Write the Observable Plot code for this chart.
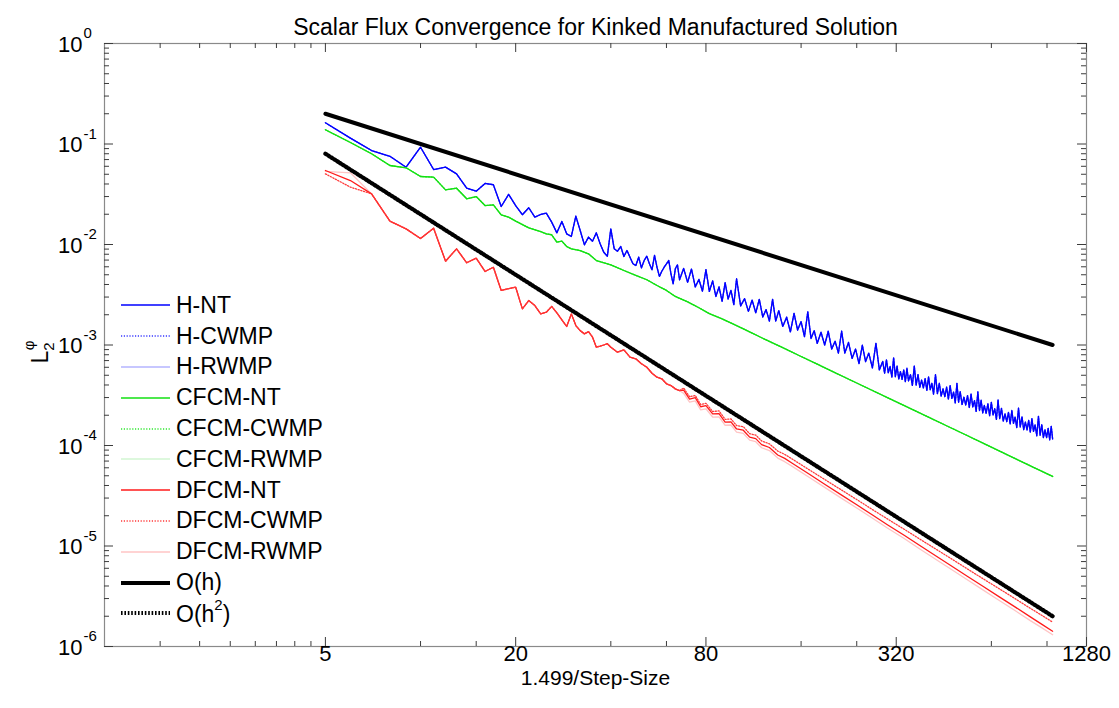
<!DOCTYPE html>
<html><head><meta charset="utf-8">
<script src="https://cdn.jsdelivr.net/npm/d3@7"></script>
<script src="https://cdn.jsdelivr.net/npm/@observablehq/plot@0.6"></script>
<style>
body{margin:0;background:#fff;font-family:"Liberation Sans",Arial,sans-serif;}
#wrap{position:relative;width:1119px;height:708px;}
#legend{position:absolute;left:121px;top:290px;}
.row{height:30.8px;display:flex;align-items:center;font-size:23px;color:#000;white-space:nowrap;}
.row svg{width:49px;height:12px;margin-right:6px;flex:none;}
.row sup{font-size:15px;position:relative;top:-3px;}
</style></head><body><div id="wrap"></div><script>
// ---------- data ----------
const titleText = "Scalar Flux Convergence for Kinked Manufactured Solution";
const xLabelText = "1.499/Step-Size";
const xTickValues = [5, 20, 80, 320, 1280];
const xTickLabels = ["5", "20", "80", "320", "1280"];
const xMinorTicks = [1.5, 2, 2.5, 3, 3.5, 4, 4.5, 10, 15, 40, 60, 160, 240, 640, 960];
const yTickValues = [1, 1e-1, 1e-2, 1e-3, 1e-4, 1e-5, 1e-6];
const yTickExponents = ["0", "-1", "-2", "-3", "-4", "-5", "-6"];
const yMinorTicks = [1e-1,1e-2,1e-3,1e-4,1e-5,1e-6].flatMap(p => [2,3,4,5,6,7,8,9].map(m => m * p));

const seriesNames = ["H-NT","H-CWMP","H-RWMP","CFCM-NT","CFCM-CWMP","CFCM-RWMP","DFCM-NT","DFCM-CWMP","DFCM-RWMP","O(h)","O(h2)"];

// H (blue)
const hN = [5,6,7,8,9,10,11,12,13,14,15,16,17,18,19,20,21,22,23,24,25,26,27,28,29,30,31,32,33,34,35,36,37,38,39,40,41,42,43,44,45,46,47,48,49,50,51,52,53,54,55,56,57,58,59,60,61,62,63,64,65,66,
  68,70,72,74,76,78,80,82,84,86,88,90,92,94,96,98,100,103,106,109,112,115,118,121,124,127,130,133,136,140,144,148,152,156,160,164,168,172,176,180,185,190,195,200,205,210,215,220,226,232,238,244,250,256,262,269,276,283,
  290,294,298,302,306,310,314,318,322,326,330,334,338,342,346,350,355,360,365,370,375,380,385,390,395,400,405,410,415,420,426,432,438,444,450,456,462,468,474,480,486,492,498,504,510,517,524,531,538,545,552,559,566,573,580,587,594,601,608,616,624,632,640,648,656,664,672,680,689,698,707,716,725,734,743,752,761,770,780,790,800,810,820,830,840,850,860,870,880,891,902,913,924,935,946,957,968,979,990,1000];
const hNT = [0.1625,0.1143,0.0861,0.0755,0.0588,0.0929,0.0557,0.0588,0.0505,0.0363,0.0339,0.0405,0.0393,0.0239,0.0315,0.0244,0.0198,0.0232,0.0187,0.0199,0.0205,0.0167,0.01306,0.01694,0.01277,0.01202,0.01914,0.01378,0.00993,0.01183,0.01079,0.01306,0.01016,0.00838,0.00764,0.01432,0.00906,0.00857,0.00955,0.00760,0.00871,0.00748,0.00643,0.00618,0.00748,0.00586,0.00693,0.00765,0.00643,0.00560,0.00778,0.00594,0.00481,0.00542,0.00594,0.00643,0.00693,0.00511,0.00406,0.00573,0.00628,0.00446,
  5.78e-3,4.20e-3,5.70e-3,3.79e-3,4.49e-3,3.43e-3,5.62e-3,3.41e-3,4.35e-3,3.04e-3,
  3.79e-3,2.72e-3,4.17e-3,2.87e-3,3.50e-3,2.52e-3,4.56e-3,2.45e-3,2.89e-3,2.16e-3,
  2.80e-3,2.09e-3,2.85e-3,1.90e-3,2.25e-3,1.73e-3,2.84e-3,1.73e-3,2.20e-3,1.53e-3,
  1.89e-3,1.35e-3,2.06e-3,1.41e-3,1.71e-3,1.21e-3,2.14e-3,1.16e-3,1.39e-3,1.04e-3,
  1.34e-3,1.00e-3,1.37e-3,9.10e-4,1.09e-3,8.31e-4,1.37e-3,8.32e-4,1.06e-3,7.35e-4,
  9.11e-4,6.53e-4,9.94e-4,6.83e-4,8.31e-4,5.93e-4,1.04e-3,5.65e-4,
  6.86e-4,5.24e-4,7.10e-4,5.30e-4,6.12e-4,4.78e-4,7.46e-4,4.85e-4,6.15e-4,4.59e-4,
  5.43e-4,4.55e-4,5.65e-4,4.32e-4,5.87e-4,4.39e-4,5.07e-4,3.96e-4,6.16e-4,4.00e-4,
  5.07e-4,3.78e-4,4.47e-4,3.74e-4,4.63e-4,3.54e-4,4.81e-4,3.59e-4,4.16e-4,3.25e-4,
  5.06e-4,3.28e-4,4.16e-4,3.10e-4,3.66e-4,3.07e-4,3.80e-4,2.90e-4,3.94e-4,2.94e-4,
  3.40e-4,2.66e-4,4.15e-4,2.70e-4,3.43e-4,2.56e-4,3.02e-4,2.53e-4,3.13e-4,2.39e-4,
  3.25e-4,2.42e-4,2.80e-4,2.19e-4,3.42e-4,2.23e-4,2.82e-4,2.11e-4,2.50e-4,2.09e-4,
  2.59e-4,1.98e-4,2.69e-4,2.01e-4,2.32e-4,1.82e-4,2.84e-4,1.85e-4,2.34e-4,1.75e-4,
  2.06e-4,1.73e-4,2.14e-4,1.64e-4,2.23e-4,1.66e-4,1.92e-4,1.51e-4,2.35e-4,1.53e-4,
  1.93e-4,1.44e-4,1.71e-4,1.43e-4,1.78e-4,1.36e-4,1.85e-4,1.38e-4,1.60e-4,1.25e-4,
  1.95e-4,1.27e-4,1.61e-4,1.20e-4,1.43e-4,1.20e-4,1.48e-4,1.14e-4,1.55e-4,1.16e-4];

// CFCM (green)
const cN = [5,6,7,8,9,10,11,12,13,14,15,16,17,18,19,20,22,24,25,26,27,28,29,30,32,34,36,40,44,48,52,56,60,64,70,76,82,90,100,110,125,140,160,180,200,230,260,300,350,400,460,530,600,680,770,870,1000];
const cNT = [0.1385,0.1035,0.0799,0.0611,0.0580,0.0475,0.0468,0.0350,0.0363,0.0285,0.0300,0.0244,0.0248,0.0197,0.0187,0.0171,
  0.01466,0.01346,0.01277,0.01250,0.01054,0.01079,0.00955,0.00906,
  0.00871,0.00807,0.00693,0.00628,0.00551,0.00492,0.00446,0.00391,0.00349,0.00304,
  2.69e-3,2.35e-3,2.05e-3,1.82e-3,1.56e-3,1.35e-3,1.11e-3,9.40e-4,7.69e-4,6.45e-4,5.50e-4,4.46e-4,3.71e-4,3.00e-4,2.38e-4,1.95e-4,1.58e-4,1.28e-4,1.06e-4,8.78e-5,7.29e-5,6.07e-5,4.92e-5];

// DFCM (red): head n = 5..66, tail n = 68..1000
const dHeadN = [5,6,7,8,9,10,11,12,13,14,15,16,17,18,19,20,21,22,23,24,25,26,27,28,29,30,31,32,33,34,35,36,37,38,39,40,
  42,44,46,48,50,52,54,56,58,60,62,64,66];
const dNThead = [0.0545,0.0433,0.0319,0.0171,0.0143,0.01147,0.01453,0.00682,0.00906,0.00658,0.00731,0.00539,0.00594,0.00349,0.00363,0.00376,0.00229,0.00277,0.00247,0.00204,0.00212,0.00242,0.00209,0.00178,0.00153,0.00204,0.00156,0.00139,0.00129,0.00136,0.00120,9.51e-4,9.73e-4,1.00e-3,1.03e-3,9.51e-4,
  8.48e-4,8.96e-4,7.56e-4,7.29e-4,6.50e-4,6.01e-4,5.24e-4,4.78e-4,4.61e-4,4.11e-4,3.95e-4,3.66e-4,3.52e-4];
const dCWMPfirst = [0.0505, 0.0372, 0.0319];   // n = 5, 6, 7
const dRWMPfirst = [0.0533, 0.0517, 0.0319];
const dTailN = [68,71,74,77,80,84,88,92,96,100,105,110,115,120,127,135,142,150,170,190,215,240,270,300,340,380,430,480,540,600,680,760,850,920,1000];
const dNTtail = [3.55e-4,2.90e-4,2.99e-4,2.43e-4,2.49e-4,2.06e-4,2.08e-4,1.71e-4,1.72e-4,1.46e-4,1.42e-4,1.21e-4,1.17e-4,1.02e-4,9.55e-5,8.05e-5,7.44e-5,6.66e-5,5.17e-5,4.12e-5,3.21e-5,2.57e-5,2.02e-5,1.63e-5,1.27e-5,1.01e-5,7.86e-6,6.29e-6,4.95e-6,4.00e-6,3.10e-6,2.48e-6,1.97e-6,1.68e-6,1.42e-6];
const dCWMPtail = [3.73e-4,3.05e-4,3.15e-4,2.56e-4,2.63e-4,2.18e-4,2.21e-4,1.82e-4,1.84e-4,1.58e-4,1.54e-4,1.31e-4,1.27e-4,1.11e-4,1.04e-4,8.8e-5,8.16e-5,7.33e-5,5.72e-5,4.59e-5,3.6e-5,2.9e-5,2.29e-5,1.86e-5,1.46e-5,1.17e-5,9.2e-6,7.4e-6,5.86e-6,4.76e-6,3.73e-6,3.0e-6,2.4e-6,2.06e-6,1.75e-6];
const dRWMPtail = [3.30e-4,2.70e-4,2.78e-4,2.26e-4,2.32e-4,1.92e-4,1.93e-4,1.59e-4,1.60e-4,1.36e-4,1.32e-4,1.13e-4,1.09e-4,9.5e-5,8.9e-5,7.5e-5,6.9e-5,6.2e-5,4.8e-5,3.83e-5,2.98e-5,2.39e-5,1.88e-5,1.51e-5,1.18e-5,9.35e-6,7.25e-6,5.8e-6,4.56e-6,3.68e-6,2.85e-6,2.28e-6,1.81e-6,1.55e-6,1.31e-6];

// reference slopes (straight lines in log-log)
const refN = [5, 1000];
const ohY = [0.2, 0.001];
const oh2Y = [0.08, 2e-6];

// ---------- build tables ----------
const pts = (xs, ys) => xs.map((x, i) => ({x, y: ys[i]}));
const dN = dHeadN.concat(dTailN);
const dNT = pts(dN, dNThead.concat(dNTtail));
const dCWMP = pts(dN, dCWMPfirst.concat(dNThead.slice(3), dCWMPtail));
const dRWMP = pts(dN, dRWMPfirst.concat(dNThead.slice(3), dRWMPtail));

const styles = {
  "H-NT":      {stroke: "#0000ff", strokeWidth: 1.3},
  "H-CWMP":    {stroke: "#3a3aff", strokeWidth: 1.3, strokeDasharray: "1.2,1.6"},
  "H-RWMP":    {stroke: "#b4b4ff", strokeWidth: 1.3},
  "CFCM-NT":   {stroke: "#12e012", strokeWidth: 1.3},
  "CFCM-CWMP": {stroke: "#30e830", strokeWidth: 1.3, strokeDasharray: "1.2,1.6"},
  "CFCM-RWMP": {stroke: "#d2f6d2", strokeWidth: 1.3},
  "DFCM-NT":   {stroke: "#ff1a1a", strokeWidth: 1.3},
  "DFCM-CWMP": {stroke: "#ff3a3a", strokeWidth: 1.3, strokeDasharray: "1.2,1.6"},
  "DFCM-RWMP": {stroke: "#ffc4c4", strokeWidth: 1.3},
  "O(h)":      {stroke: "#000000", strokeWidth: 4},
  "O(h2)":     {stroke: "#000000", strokeWidth: 4.2, strokeDasharray: "1.6,1.8"}
};

const series = {
  "H-NT": pts(hN, hNT), "H-CWMP": pts(hN, hNT), "H-RWMP": pts(hN, hNT),
  "CFCM-NT": pts(cN, cNT), "CFCM-CWMP": pts(cN, cNT), "CFCM-RWMP": pts(cN, cNT),
  "DFCM-NT": dNT, "DFCM-CWMP": dCWMP, "DFCM-RWMP": dRWMP,
  "O(h)": pts(refN, ohY), "O(h2)": pts(refN, oh2Y)
};
const drawOrder = ["H-RWMP","H-CWMP","H-NT","CFCM-RWMP","CFCM-CWMP","CFCM-NT","DFCM-RWMP","DFCM-NT","DFCM-CWMP","O(h)","O(h2)"];

const W = 1119, H = 708, mL = 104, mR = 33, mT = 43, mB = 62;
const fw = W - mL - mR, fh = H - mT - mB;
const tickCol = "#3c3c3c";

const chart = Plot.plot({
  width: W, height: H,
  marginLeft: mL, marginRight: mR, marginTop: mT, marginBottom: mB,
  style: {fontFamily: "'Liberation Sans', Arial, sans-serif", background: "#fff", overflow: "visible"},
  x: {type: "log", domain: [1, 1280], axis: null},
  y: {type: "log", domain: [1e-6, 1], axis: null},
  marks: [
    ...drawOrder.map(k => Plot.line(series[k], {x: "x", y: "y", ...styles[k]})),
    Plot.frame({stroke: "#8a8a8a", strokeWidth: 1.2}),
    Plot.tickX(xTickValues, {x: d => d, insetTop: fh - 9, stroke: tickCol}),
    Plot.tickX(xTickValues, {x: d => d, insetBottom: fh - 9, stroke: tickCol}),
    Plot.tickX(xMinorTicks, {x: d => d, insetTop: fh - 5, stroke: tickCol}),
    Plot.tickX(xMinorTicks, {x: d => d, insetBottom: fh - 5, stroke: tickCol}),
    Plot.tickY(yTickValues, {y: d => d, insetRight: fw - 9, stroke: tickCol}),
    Plot.tickY(yTickValues, {y: d => d, insetLeft: fw - 9, stroke: tickCol}),
    Plot.tickY(yMinorTicks, {y: d => d, insetRight: fw - 5, stroke: tickCol}),
    Plot.tickY(yMinorTicks, {y: d => d, insetLeft: fw - 5, stroke: tickCol}),
    Plot.text(xTickValues, {x: d => d, text: (d, i) => xTickLabels[i], frameAnchor: "bottom", dy: 14, fontSize: 22, fill: "#000"}),
    Plot.text(yTickValues, {y: d => d, text: () => "10", frameAnchor: "left", textAnchor: "end", dx: -22, dy: 1, fontSize: 22, fill: "#000"}),
    Plot.text(yTickValues, {y: d => d, text: (d, i) => yTickExponents[i], frameAnchor: "left", textAnchor: "start", dx: -21, dy: -10, fontSize: 15, fill: "#000"}),
    Plot.text([xLabelText], {text: d => d, frameAnchor: "bottom", dy: 38, fontSize: 21, fill: "#000"}),
    Plot.text([titleText], {text: d => d, frameAnchor: "top", dy: -25, fontSize: 23, fill: "#000"})
  ]
});

// y-axis label  L_2^phi
const yl = d3.select(chart).append("text")
  .attr("transform", "translate(48,352) rotate(-90)")
  .attr("font-size", 23).attr("fill", "#000")
  .attr("font-family", "'Liberation Sans', Arial, sans-serif");
yl.append("tspan").text("L");
yl.append("tspan").attr("font-size", 15).attr("dy", 6).text("2");
yl.append("tspan").attr("font-size", 15).attr("dx", -8).attr("dy", -20).text("\u03c6");

const wrap = document.getElementById("wrap");
wrap.appendChild(chart);

// legend (inside the axes, no box)
const legend = document.createElement("div");
legend.id = "legend";
seriesNames.forEach(name => {
  const s = styles[name];
  const row = document.createElement("div");
  row.className = "row";
  const label = name === "O(h2)" ? "O(h<sup>2</sup>)" : name;
  row.innerHTML = `<svg viewBox="0 0 49 12"><line x1="0" x2="49" y1="6" y2="6" stroke="${s.stroke}" stroke-width="${s.strokeWidth}" ${s.strokeDasharray ? `stroke-dasharray="${s.strokeDasharray}"` : ""}/></svg><span>${label}</span>`;
  legend.appendChild(row);
});
wrap.appendChild(legend);
</script></body></html>
